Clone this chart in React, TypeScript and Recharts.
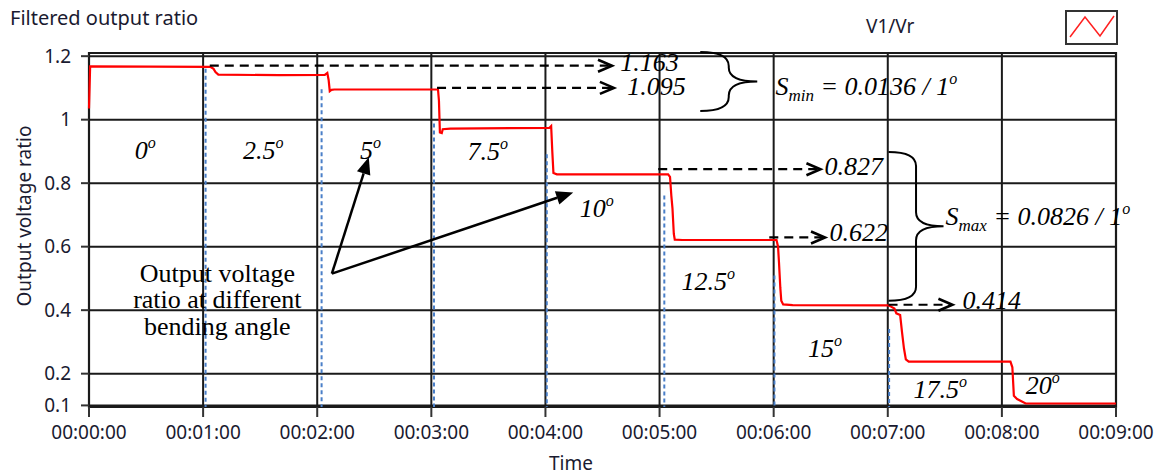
import React from "react";
import {
  LineChart,
  Line,
  XAxis,
  YAxis,
  CartesianGrid,
  ReferenceLine,
  ReferenceDot,
  ReferenceArea,
} from "recharts";

// red trace V1/Vr (time in seconds)
const timeSec = [
  0, 0.6, 64, 65.5, 66.5, 68, 100, 124, 125.3, 126, 126.6, 127.5, 129,
  183.5, 184, 184.5, 185.5, 186, 190, 242, 243, 243.6, 244.2, 246,
  304.5, 305.5, 306.2, 306.8, 307.5, 308, 312,
  361.5, 362.3, 362.8, 363.5, 364, 365, 370, 420.5,
  421.5, 423.5, 424.5, 426.5, 427.5, 428.5, 429.5, 431, 484.5,
  485.5, 486.3, 488, 492.5, 540,
];
const ratio = [
  1.035, 1.168, 1.166, 1.16, 1.15, 1.142, 1.14, 1.141, 1.147, 1.125, 1.09, 1.094, 1.095,
  1.095, 1.06, 0.96, 0.958, 0.97, 0.972, 0.974, 0.98, 0.9, 0.832, 0.828,
  0.828, 0.82, 0.76, 0.72, 0.64, 0.622, 0.621,
  0.621, 0.6, 0.55, 0.47, 0.43, 0.418, 0.416, 0.415,
  0.412, 0.405, 0.39, 0.385, 0.33, 0.28, 0.245, 0.238, 0.238,
  0.22, 0.13, 0.12, 0.106, 0.106,
];

const timeTicks = [0, 60, 120, 180, 240, 300, 360, 420, 480, 540];
const ratioTicks = [0.1, 0.2, 0.4, 0.6, 0.8, 1, 1.2];

// blue dotted markers where each bend starts
const stepT = [61.3, 122.3, 181.4, 240.7, 302.5, 360.4, 420.7];
const stepTop = [1.16, 1.096, 0.988, 0.891, 0.761, 0.509, 0.341];

// bending angle labels
const angleNames = ["0", "2.5", "5", "7.5", "10", "12.5", "15", "17.5", "20"];
const angleT = [24, 81, 142.5, 199, 258, 311.5, 378, 433.5, 492.5];
const angleV = [0.875, 0.875, 0.875, 0.872, 0.692, 0.464, 0.253, 0.124, 0.136];

// dashed arrows to the read values
const markNames = ["1.163", "1.095", "0.827", "0.622", "0.414"];
const markV = [1.17, 1.1, 0.844, 0.629, 0.417];
const markFrom = [63.5, 183, 299.3, 357.7, 420.4];
const markTo = [275, 276, 384.6, 387, 454];
const markTextT = [279.3, 283, 386.7, 389.3, 459.3];
const markTextV = [1.152, 1.077, 0.825, 0.619, 0.404];

const chartData = timeSec.map((t, i) => ({ t, v: ratio[i] }));

const fmtTime = (s: number) => {
  const m = Math.floor(s / 60);
  return `00:${String(m).padStart(2, "0")}:00`;
};

const SERIF = '"Liberation Serif", "Times New Roman", serif';
const SANS = '"Noto Sans", sans-serif';
const TEXT = "#1a1a30";

const DashedArrow = (p: any) => {
  const { x1, y1, x2 } = p;
  return (
    <g>
      <line x1={x1} y1={y1} x2={x2 - 2} y2={y1} stroke="#000" strokeWidth={2.2} strokeDasharray="9 6" />
      <polyline
        points={`${x2 - 14},${y1 - 6} ${x2},${y1} ${x2 - 14},${y1 + 6}`}
        fill="none"
        stroke="#000"
        strokeWidth={2.6}
      />
    </g>
  );
};

const SolidArrow = (p: any) => {
  const { x1, y1, x2, y2 } = p;
  const a = Math.atan2(y2 - y1, x2 - x1);
  const L = 17;
  const W = 7;
  const bx = x2 - L * Math.cos(a);
  const by = y2 - L * Math.sin(a);
  const nx = -Math.sin(a) * W;
  const ny = Math.cos(a) * W;
  return (
    <g>
      <line x1={x1} y1={y1} x2={bx} y2={by} stroke="#000" strokeWidth={2.5} />
      <polygon points={`${x2},${y2} ${bx + nx},${by + ny} ${bx - nx},${by - ny}`} fill="#000" />
    </g>
  );
};

const Brace = (w: number) => (p: any) => {
  const { x1, y1, y2 } = p;
  const sx = x1 + w * 0.5;
  const tip = x1 + w;
  const mid = (y1 + y2) / 2;
  const r = 14;
  const d = `M ${x1} ${y1} Q ${sx} ${y1} ${sx} ${y1 + r} L ${sx} ${mid - r} Q ${sx} ${mid} ${tip} ${mid} Q ${sx} ${mid} ${sx} ${mid + r} L ${sx} ${y2 - r} Q ${sx} ${y2} ${x1} ${y2}`;
  return <path d={d} fill="none" stroke="#000" strokeWidth={2} />;
};

const AngleText = (name: string) => (p: any) => (
  <text x={p.cx} y={p.cy} fontFamily={SERIF} fontStyle="italic" fontSize={26} fill="#000">
    <tspan>{name}</tspan>
    <tspan dy={-11} fontSize={16}>o</tspan>
  </text>
);

const ValueText = (name: string) => (p: any) => (
  <text x={p.cx} y={p.cy} fontFamily={SERIF} fontStyle="italic" fontSize={26} fill="#000">
    {name}
  </text>
);

const SlopeText = (sub: string, val: string) => (p: any) => (
  <text x={p.cx} y={p.cy} fontFamily={SERIF} fontStyle="italic" fontSize={26} fill="#000">
    <tspan>S</tspan>
    <tspan dy={6} fontSize={17}>{sub}</tspan>
    <tspan dy={-6}>{` = ${val} / 1`}</tspan>
    <tspan dy={-11} fontSize={16}>o</tspan>
  </text>
);

const NoteText = (p: any) => (
  <text x={p.cx} y={p.cy} fontFamily={SERIF} fontSize={26} fill="#000" textAnchor="middle">
    <tspan x={p.cx}>Output voltage</tspan>
    <tspan x={p.cx} dy={26.5}>ratio at different</tspan>
    <tspan x={p.cx} dy={26.5}>bending angle</tspan>
  </text>
);

export default function App() {
  return (
    <div
      style={{
        position: "absolute",
        left: 0,
        top: 0,
        width: 1161,
        height: 475,
        background: "#fff",
        fontFamily: SANS,
      }}
    >
      <LineChart
        width={1161}
        height={475}
        data={chartData}
        margin={{ top: 53, right: 45, bottom: 0, left: 0 }}
      >
        <CartesianGrid stroke="#1a1a1a" strokeWidth={2} />
        <ReferenceArea
          x1={0}
          x2={540}
          y1={0.095}
          y2={1.21}
          fill="none"
          fillOpacity={0}
          stroke="#1a1a1a"
          strokeWidth={2.2}
        />
        <XAxis
          type="number"
          dataKey="t"
          domain={[0, 540]}
          ticks={timeTicks}
          tickFormatter={fmtTime}
          height={68}
          tickSize={10}
          tickMargin={9}
          axisLine={false}
          tickLine={{ stroke: "#333", strokeWidth: 2 }}
          tick={{ fill: TEXT, fontSize: 19, fontFamily: SANS }}
          interval={0}
        />
        <YAxis
          type="number"
          domain={[0.095, 1.21]}
          ticks={ratioTicks}
          width={89}
          tickSize={8}
          tickMargin={10}
          axisLine={false}
          tickLine={{ stroke: "#333", strokeWidth: 2 }}
          tick={{ fill: TEXT, fontSize: 19, fontFamily: SANS }}
          interval={0}
        />
        {stepT.map((t, i) => (
          <ReferenceLine
            key={`s${i}`}
            segment={[
              { x: t, y: stepTop[i] },
              { x: t, y: 0.095 },
            ]}
            stroke="#4a7fc8"
            strokeWidth={2}
            strokeDasharray="4 3"
            ifOverflow="visible"
          />
        ))}
        <Line
          type="linear"
          dataKey="v"
          stroke="#ff0000"
          strokeWidth={2.2}
          dot={false}
          isAnimationActive={false}
        />
        {markNames.map((n, i) => (
          <ReferenceLine
            key={`m${i}`}
            segment={[
              { x: markFrom[i], y: markV[i] },
              { x: markTo[i], y: markV[i] },
            ]}
            ifOverflow="visible"
            shape={DashedArrow}
          />
        ))}
        {markNames.map((n, i) => (
          <ReferenceDot
            key={`mt${i}`}
            x={markTextT[i]}
            y={markTextV[i]}
            ifOverflow="visible"
            shape={ValueText(n)}
          />
        ))}
        {angleNames.map((n, i) => (
          <ReferenceDot
            key={`a${i}`}
            x={angleT[i]}
            y={angleV[i]}
            ifOverflow="visible"
            shape={AngleText(n)}
          />
        ))}
        <ReferenceLine
          segment={[
            { x: 321.4, y: 1.213 },
            { x: 321.4, y: 1.027 },
          ]}
          ifOverflow="visible"
          shape={Brace(57)}
        />
        <ReferenceLine
          segment={[
            { x: 420.4, y: 0.898 },
            { x: 420.4, y: 0.43 },
          ]}
          ifOverflow="visible"
          shape={Brace(55)}
        />
        <ReferenceDot x={360.9} y={1.077} ifOverflow="visible" shape={SlopeText("min", "0.0136")} />
        <ReferenceDot x={450.4} y={0.667} ifOverflow="visible" shape={SlopeText("max", "0.0826")} />
        <ReferenceDot x={67.5} y={0.49} ifOverflow="visible" shape={NoteText} />
        <ReferenceLine
          segment={[
            { x: 127.7, y: 0.515 },
            { x: 147.1, y: 0.882 },
          ]}
          ifOverflow="visible"
          shape={SolidArrow}
        />
        <ReferenceLine
          segment={[
            { x: 127.7, y: 0.515 },
            { x: 254.6, y: 0.771 },
          ]}
          ifOverflow="visible"
          shape={SolidArrow}
        />
      </LineChart>
      <svg
        width={1161}
        height={475}
        style={{ position: "absolute", left: 0, top: 0, pointerEvents: "none" }}
      >
        <text x={10} y={25} fontSize={20} fill={TEXT} fontFamily={SANS}>
          Filtered output ratio
        </text>
        <text x={866} y={33} fontSize={19} fill={TEXT} fontFamily={SANS}>
          V1/Vr
        </text>
        <rect x={1066} y={11} width={51} height={33} fill="#fff" stroke="#333" strokeWidth={2} />
        <polyline points="1070,37 1085,17 1100,36 1114,16" fill="none" stroke="#ff2020" strokeWidth={1.5} />
        <text
          x={31}
          y={216}
          fontSize={19}
          fill={TEXT}
          fontFamily={SANS}
          textAnchor="middle"
          transform="rotate(-90 31 216)"
        >
          Output voltage ratio
        </text>
        <text x={571} y={470} fontSize={19} fill={TEXT} fontFamily={SANS} textAnchor="middle">
          Time
        </text>
      </svg>
    </div>
  );
}
